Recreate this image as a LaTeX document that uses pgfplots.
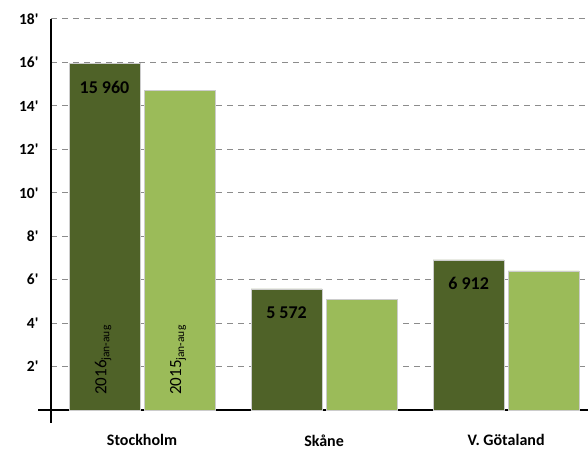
\documentclass[border=0pt]{standalone}
\usepackage{fontspec}
\setmainfont{Carlito}
\usepackage{pgfplots}
\pgfplotsset{compat=1.18}

\definecolor{dgreen}{RGB}{79,98,40}
\definecolor{lgreen}{RGB}{155,187,89}
\definecolor{gridgray}{RGB}{140,140,140}

\begin{document}
\begin{tikzpicture}[x=1pt,y=1pt]
\useasboundingbox (0,0) rectangle (588,450);
\begin{axis}[
  at={(51pt,40pt)}, anchor=south west,
  scale only axis, width=537pt, height=391pt,
  xmin=-0.5, xmax=2.45, ymin=0, ymax=18,
  ybar=4pt, bar width=71pt,
  axis x line=bottom, axis y line=left,
  axis line style={-, line width=1.5pt, black},
  major tick length=0pt,
  ymajorgrids,
  grid style={gridgray, line width=1pt, dash pattern=on 6pt off 5pt},
  ytick={2,4,...,18},
  yticklabels={2\textquotesingle,4\textquotesingle,6\textquotesingle,8\textquotesingle,10\textquotesingle,12\textquotesingle,14\textquotesingle,16\textquotesingle,18\textquotesingle},
  yticklabel style={font=\fontsize{15.5}{17}\selectfont\bfseries, xshift=-9pt},
  xtick={0,1,2},
  xticklabels={Stockholm,Skåne,V. Götaland},
  xticklabel style={font=\fontsize{16}{18}\selectfont\bfseries, yshift=-21pt},
  clip=false,
]
\addplot[fill=dgreen, draw=white!80!black, line width=0.6pt,
  point meta=explicit symbolic,
  nodes near coords,
  every node near coord/.append style={anchor=center, yshift=-24pt, black,
    font=\fontsize{18}{20}\selectfont\bfseries}]
  coordinates {(0,15.96)[15 960] (1,5.572)[5 572] (2,6.912)[6 912]};
\addplot[fill=lgreen, draw=white!80!black, line width=0.6pt]
  coordinates {(0,14.7) (1,5.1) (2,6.4)};

\draw[line width=1.5pt] (rel axis cs:0,0) -- ++(0pt,-13pt);
\draw[line width=1.5pt] (rel axis cs:0,0) -- ++(-13pt,0pt);
\node[rotate=90, anchor=west, inner sep=0pt, font=\fontsize{17}{19}\selectfont]
  at ([xshift=-39pt, yshift=15pt]axis cs:0,0)
  {2016\raisebox{-3pt}{\fontsize{11.5}{12}\selectfont jan-aug}};
\node[rotate=90, anchor=west, inner sep=0pt, font=\fontsize{17}{19}\selectfont]
  at ([xshift=36pt, yshift=15pt]axis cs:0,0)
  {2015\raisebox{-3pt}{\fontsize{11.5}{12}\selectfont jan-aug}};
\end{axis}
\end{tikzpicture}
\end{document}
